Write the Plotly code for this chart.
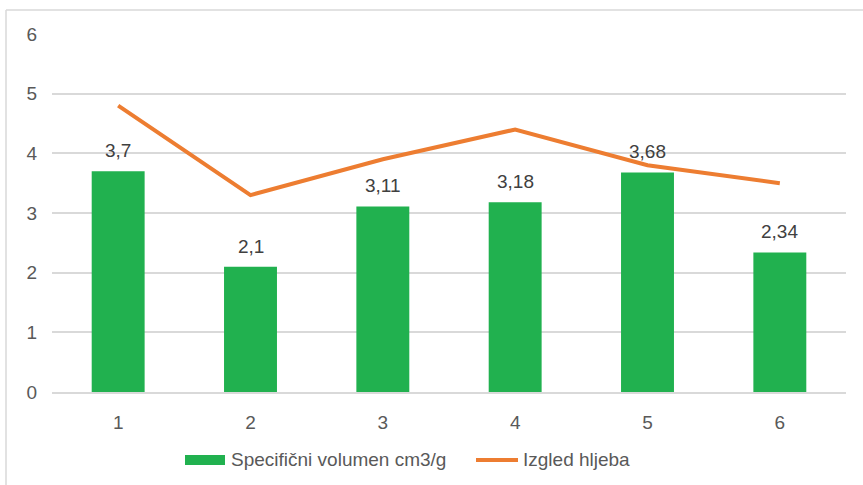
import plotly.graph_objects as go

categories = ["1", "2", "3", "4", "5", "6"]
volumen = [3.7, 2.1, 3.11, 3.18, 3.68, 2.34]
izgled = [4.8, 3.3, 3.9, 4.4, 3.8, 3.5]
y_ticks = [0, 1, 2, 3, 4, 5, 6]
series_names = ["Specifični volumen cm3/g", "Izgled hljeba"]
series_colors = ["#21B14F", "#ED7D31"]

W, H = 863, 485
L, R, T, B = 52, 17, 34, 93
PW, PH = W - L - R, H - T - B

FONT = "Liberation Sans, Arial, sans-serif"
GRID = "#D9D9D9"
TXT = "#595959"


def px_x(x):
    return (x - L) / PW


def px_y(y):
    return (H - B - y) / PH


def fmt(v):
    return f"{v:g}".replace(".", ",")


fig = go.Figure()
fig.add_trace(go.Bar(
    x=categories, y=volumen, name=series_names[0],
    marker=dict(color=series_colors[0], line=dict(width=0)),
))
fig.add_trace(go.Scatter(
    x=categories, y=izgled, name=series_names[1], mode="lines",
    line=dict(color=series_colors[1], width=4),
))

# value labels above each bar
for i, v in enumerate(volumen):
    fig.add_annotation(
        x=i, y=v, text=fmt(v), showarrow=False,
        yanchor="bottom", yshift=8,
        font=dict(family=FONT, size=19, color="#404040"),
    )

# outer frame of the chart area
fig.add_shape(type="line", xref="paper", yref="paper",
              x0=px_x(6), x1=px_x(W), y0=px_y(10), y1=px_y(10),
              line=dict(color=GRID, width=1.5))
fig.add_shape(type="line", xref="paper", yref="paper",
              x0=px_x(6), x1=px_x(6), y0=px_y(10), y1=px_y(H),
              line=dict(color=GRID, width=1.5))

# legend below the plot: wide swatch for the bars, line stroke for the series
LEG_Y = 460
fig.add_shape(type="rect", xref="paper", yref="paper",
              x0=px_x(185), x1=px_x(225), y0=px_y(465), y1=px_y(455),
              fillcolor=series_colors[0], line=dict(width=0))
fig.add_annotation(xref="paper", yref="paper", x=px_x(229), y=px_y(LEG_Y),
                   xanchor="left", yanchor="middle", showarrow=False,
                   text=series_names[0],
                   font=dict(family=FONT, size=19, color=TXT))
fig.add_shape(type="line", xref="paper", yref="paper",
              x0=px_x(476), x1=px_x(518), y0=px_y(LEG_Y), y1=px_y(LEG_Y),
              line=dict(color=series_colors[1], width=4))
fig.add_annotation(xref="paper", yref="paper", x=px_x(521), y=px_y(LEG_Y),
                   xanchor="left", yanchor="middle", showarrow=False,
                   text=series_names[1],
                   font=dict(family=FONT, size=19, color=TXT))

fig.update_layout(
    width=W, height=H,
    margin=dict(l=L, r=R, t=T, b=B),
    paper_bgcolor="white", plot_bgcolor="white",
    bargap=0.6,
    font=dict(family=FONT, size=19, color=TXT),
    showlegend=False,
    xaxis=dict(showgrid=False, showline=True, linecolor=GRID, linewidth=1.5,
               ticks="", ticklabelstandoff=12, range=[-0.5, 5.5],
               tickfont=dict(family=FONT, size=19, color=TXT)),
    yaxis=dict(range=[0, 6], tickvals=y_ticks, showgrid=True, gridcolor=GRID,
               gridwidth=1.5, zeroline=False, showline=False, ticks="",
               ticklabelstandoff=14,
               tickfont=dict(family=FONT, size=19, color=TXT)),
)

fig.write_html("out.html")
